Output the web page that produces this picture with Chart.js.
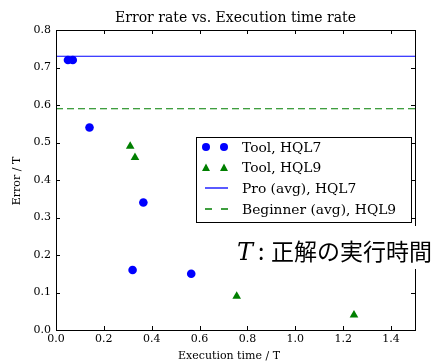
<!DOCTYPE html>
<html>
<head>
<meta charset="utf-8">
<script src="https://cdn.jsdelivr.net/npm/chart.js@4.4.1/dist/chart.umd.min.js"></script>
<style>
  body { margin: 0; background: #fff; }
  canvas { display: block; }
</style>
</head>
<body>
<canvas id="chart" width="435" height="363"></canvas>
<script>
// data
const hql7X = [0.05, 0.07, 0.14, 0.365, 0.32, 0.565];
const hql7Y = [0.72, 0.72, 0.54, 0.34, 0.16, 0.15];
const hql9X = [0.31, 0.33, 0.755, 1.245];
const hql9Y = [0.49, 0.46, 0.09, 0.04];
const proAvgHQL7 = 0.73;
const beginnerAvgHQL9 = 0.59;
const xTicks = [0.0, 0.2, 0.4, 0.6, 0.8, 1.0, 1.2, 1.4];
const yTicks = [0.0, 0.1, 0.2, 0.3, 0.4, 0.5, 0.6, 0.7, 0.8];
const xRange = [0, 1.5];
const yRange = [0, 0.8];
const legendLabels = ['Tool, HQL7', 'Tool, HQL9', 'Pro (avg), HQL7', 'Beginner (avg), HQL9'];

const BLUE = '#0000ff';
const GREEN = '#007f00';
const SERIF = '"DejaVu Serif", serif';
const CJK = '"Noto Sans CJK JP", sans-serif';

function toPoints(xs, ys) {
    return xs.map((x, i) => ({ x: x, y: ys[i] }));
}

// frame, inward ticks, title, axis labels, legend and note
const decor = {
    id: 'decor',
    afterDraw(chart) {
        const ctx = chart.ctx;
        const a = chart.chartArea;
        const xs = chart.scales.x;
        const ys = chart.scales.y;
        ctx.save();
        ctx.strokeStyle = '#000';
        ctx.lineWidth = 1;
        ctx.strokeRect(Math.round(a.left) + 0.5, Math.round(a.top) + 0.5,
            Math.round(a.right - a.left), Math.round(a.bottom - a.top));

        // ticks on all four sides, pointing in
        const tl = 4;
        ctx.beginPath();
        xTicks.forEach(v => {
            const px = Math.round(xs.getPixelForValue(v)) + 0.5;
            ctx.moveTo(px, a.bottom); ctx.lineTo(px, a.bottom - tl);
            ctx.moveTo(px, a.top); ctx.lineTo(px, a.top + tl);
        });
        yTicks.forEach(v => {
            const py = Math.round(ys.getPixelForValue(v)) + 0.5;
            ctx.moveTo(a.left, py); ctx.lineTo(a.left + tl, py);
            ctx.moveTo(a.right, py); ctx.lineTo(a.right - tl, py);
        });
        ctx.stroke();

        // title and axis labels
        ctx.fillStyle = '#000';
        ctx.textAlign = 'center';
        ctx.textBaseline = 'middle';
        ctx.font = '14px ' + SERIF;
        ctx.fillText('Error rate vs. Execution time rate', (a.left + a.right) / 2, 18);
        ctx.font = '11px ' + SERIF;
        ctx.fillText('Execution time / T', 229, 356);
        ctx.save();
        ctx.translate(17, 181);
        ctx.rotate(-Math.PI / 2);
        ctx.fillText('Error / T', 0, 0);
        ctx.restore();

        // legend
        const lx = 196, ly = 137, lw = 215, lh = 85;
        ctx.fillStyle = '#fff';
        ctx.fillRect(lx, ly, lw, lh);
        ctx.strokeStyle = '#000';
        ctx.strokeRect(lx + 0.5, ly + 0.5, lw, lh);
        const rows = [147, 167.5, 188, 209];
        ctx.font = '13.8px ' + SERIF;
        ctx.textAlign = 'left';
        legendLabels.forEach((label, i) => {
            const y = rows[i];
            if (i === 0) {
                ctx.fillStyle = BLUE;
                [206, 224].forEach(x => { ctx.beginPath(); ctx.arc(x, y, 4, 0, Math.PI * 2); ctx.fill(); });
            } else if (i === 1) {
                ctx.fillStyle = GREEN;
                [206, 224].forEach(x => {
                    ctx.beginPath();
                    ctx.moveTo(x, y - 4); ctx.lineTo(x - 4, y + 3.5); ctx.lineTo(x + 4, y + 3.5);
                    ctx.closePath(); ctx.fill();
                });
            } else {
                ctx.strokeStyle = i === 2 ? BLUE : GREEN;
                ctx.lineWidth = 1.3;
                ctx.setLineDash(i === 2 ? [] : [7, 9]);
                ctx.beginPath();
                ctx.moveTo(205, y); ctx.lineTo(228, y);
                ctx.stroke();
                ctx.setLineDash([]);
                ctx.lineWidth = 1;
            }
            ctx.fillStyle = '#000';
            ctx.fillText(label, 242, y + 1);
        });

        // note with white background
        ctx.fillStyle = '#fff';
        ctx.fillRect(232, 226, 203, 43);
        ctx.fillStyle = '#000';
        ctx.textBaseline = 'alphabetic';
        ctx.font = 'italic 24px ' + SERIF;
        ctx.fillText('T', 237, 260);
        ctx.font = '23px ' + CJK;
        ctx.textBaseline = 'middle';
        ctx.fillText(':', 258, 251);
        ctx.fillText('正解の実行時間', 271, 251);
        ctx.restore();
    }
};

new Chart(document.getElementById('chart'), {
    type: 'scatter',
    data: {
        datasets: [
            {
                label: legendLabels[0],
                data: toPoints(hql7X, hql7Y),
                backgroundColor: BLUE,
                borderColor: BLUE,
                pointStyle: 'circle',
                pointRadius: 4.3,
                borderWidth: 0
            },
            {
                label: legendLabels[1],
                data: toPoints(hql9X, hql9Y),
                backgroundColor: GREEN,
                borderColor: GREEN,
                pointStyle: 'triangle',
                pointRadius: 5,
                borderWidth: 0
            },
            {
                type: 'line',
                label: legendLabels[2],
                data: [{ x: xRange[0], y: proAvgHQL7 }, { x: xRange[1], y: proAvgHQL7 }],
                borderColor: BLUE,
                borderWidth: 1.2,
                pointRadius: 0
            },
            {
                type: 'line',
                label: legendLabels[3],
                data: [{ x: xRange[0], y: beginnerAvgHQL9 }, { x: xRange[1], y: beginnerAvgHQL9 }],
                borderColor: GREEN,
                borderWidth: 1.2,
                borderDash: [7, 4],
                pointRadius: 0
            }
        ]
    },
    options: {
        responsive: false,
        animation: false,
        devicePixelRatio: 1,
        layout: { padding: { top: 30, right: 20, left: 0, bottom: 0 } },
        plugins: {
            legend: { display: false },
            title: { display: false },
            tooltip: { enabled: false }
        },
        scales: {
            x: {
                type: 'linear',
                min: xRange[0],
                max: xRange[1],
                afterBuildTicks: s => { s.ticks = xTicks.map(v => ({ value: v })); },
                afterFit: s => { s.height = 33; },
                grid: { display: false, drawTicks: false },
                border: { display: false },
                ticks: {
                    padding: 3,
                    color: '#000',
                    font: { family: SERIF, size: 11 },
                    callback: v => v.toFixed(1),
                    maxRotation: 0,
                    autoSkip: false
                }
            },
            y: {
                type: 'linear',
                min: yRange[0],
                max: yRange[1],
                afterBuildTicks: s => { s.ticks = yTicks.map(v => ({ value: v })); },
                afterFit: s => { s.width = 56; },
                grid: { display: false, drawTicks: false },
                border: { display: false },
                ticks: {
                    padding: 5,
                    color: '#000',
                    font: { family: SERIF, size: 11 },
                    callback: v => v.toFixed(1),
                    autoSkip: false
                }
            }
        }
    },
    plugins: [decor]
});
</script>
</body>
</html>
